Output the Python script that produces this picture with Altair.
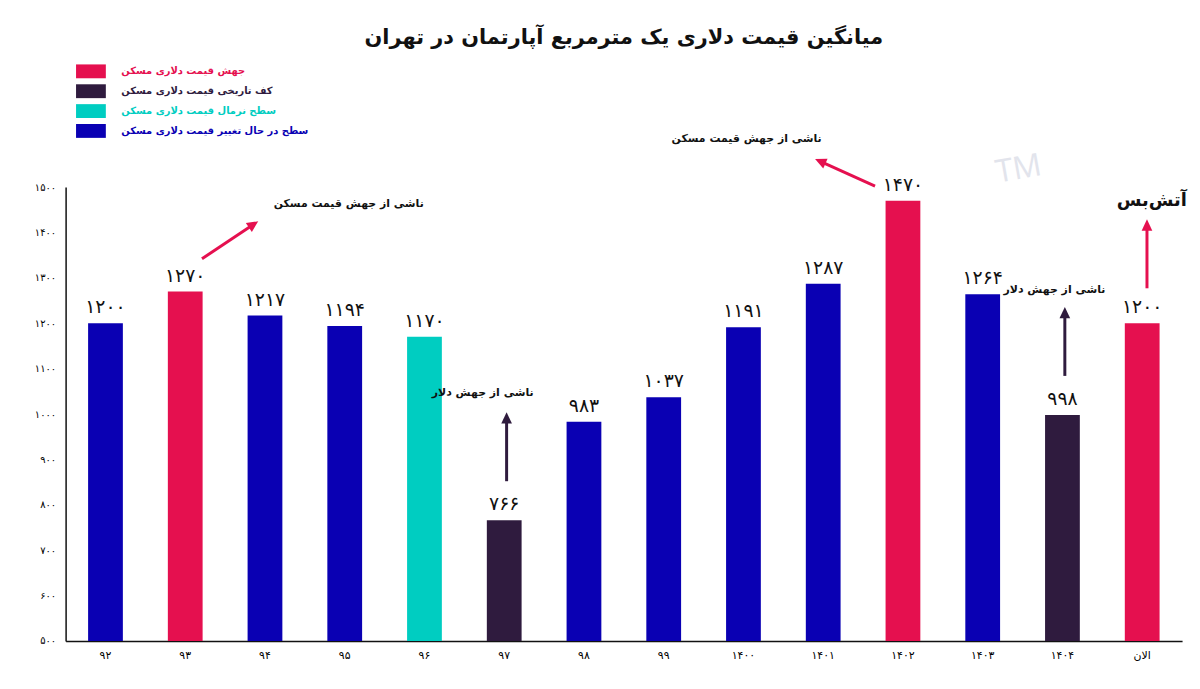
import altair as alt
import pandas as pd

FONT = "DejaVu Sans"

years = ["۹۲", "۹۳", "۹۴", "۹۵", "۹۶", "۹۷", "۹۸", "۹۹", "۱۴۰۰", "۱۴۰۱", "۱۴۰۲", "۱۴۰۳", "۱۴۰۴", "الان"]
prices = [1200, 1270, 1217, 1194, 1170, 766, 983, 1037, 1191, 1287, 1470, 1264, 998, 1200]

S_JUMP = "جهش قیمت دلاری مسکن"
S_FLOOR = "کف تاریخی قیمت دلاری مسکن"
S_NORMAL = "سطح نرمال قیمت دلاری مسکن"
S_CHANGE = "سطح در حال تغییر قیمت دلاری مسکن"
status = [S_CHANGE, S_JUMP, S_CHANGE, S_CHANGE, S_NORMAL, S_FLOOR, S_CHANGE,
          S_CHANGE, S_CHANGE, S_CHANGE, S_JUMP, S_CHANGE, S_FLOOR, S_JUMP]
status_order = [S_JUMP, S_FLOOR, S_NORMAL, S_CHANGE]
status_colors = ["#e5104f", "#2f1b3e", "#00cdc1", "#0a00b3"]

y_ticks = [500, 600, 700, 800, 900, 1000, 1100, 1200, 1300, 1400, 1500]
y_base = 500

# annotations (x in category units from left edge, y in price units)
note_text = ["ناشی از جهش قیمت مسکن", "ناشی از جهش دلار", "ناشی از جهش قیمت مسکن",
             "ناشی از جهش دلار", "آتش‌بس"]
note_x = [3.55, 5.23, 8.54, 12.40, 13.62]
note_y = [1462, 1047, 1605, 1274, 1469]
note_size = [11, 11, 11, 11, 18]

mark_text_list = ["TM"]
mark_x = [11.95]
mark_y = [1540]

arrow_x1 = [1.71, 10.15, 5.53, 12.53, 13.56]
arrow_y1 = [1342, 1502, 852, 1084, 1277]
arrow_x2 = [2.35, 9.47, 5.53, 12.53, 13.56]
arrow_y2 = [1417, 1556, 990, 1222, 1415]
arrow_angle = [56, 294, 0, 0, 0]
arrow_color = ["#e5104f", "#e5104f", "#2f1b3e", "#2f1b3e", "#e5104f"]

fa = str.maketrans("0123456789", "۰۱۲۳۴۵۶۷۸۹")

bars_df = pd.DataFrame({
    "year": years,
    "price": prices,
    "status": status,
    "label": [str(p).translate(fa) for p in prices],
})
notes_df = pd.DataFrame({"x": note_x, "y": note_y, "text": note_text, "size": note_size})
wm_df = pd.DataFrame({"x": mark_x, "y": mark_y, "text": mark_text_list})
arrows_df = pd.DataFrame({"x": arrow_x1, "y": arrow_y1, "x2": arrow_x2, "y2": arrow_y2,
                          "angle": arrow_angle, "c": arrow_color})

label_expr = " : ".join(f"datum.value == {t} ? '{str(t).translate(fa)}'" for t in y_ticks) + " : ''"

yscale = alt.Scale(domain=[500, 1500], nice=False, zero=False)
yenc = alt.Y("price:Q", scale=yscale, axis=alt.Axis(
    values=y_ticks, labelExpr=label_expr, title=None, grid=False, ticks=False,
    domainColor="#111", domainWidth=1.5, labelFont=FONT, labelFontSize=10,
    labelFontWeight="normal", labelColor="#000", labelPadding=10))

xenc = alt.X("year:N", sort=years,
             scale=alt.Scale(paddingInner=0.564, paddingOuter=0.282),
             axis=alt.Axis(title=None, orient="bottom", labelAngle=0, ticks=False,
                           domainColor="#111", domainWidth=1.5, labelFont=FONT,
                           labelFontSize=11, labelFontWeight="normal", labelColor="#000",
                           labelPadding=9))

bars = alt.Chart(bars_df).mark_bar().encode(
    x=xenc,
    y=yenc,
    y2=alt.datum(y_base),
    color=alt.Color("status:N", scale=alt.Scale(domain=status_order, range=status_colors),
                    legend=alt.Legend(
                        title=None, orient="none", legendX=18, legendY=-124,
                        symbolType="M-2,-0.93H2V0.93H-2Z", symbolSize=225,
                        symbolStrokeWidth=0, symbolOpacity=1,
                        labelFont=FONT, labelFontSize=10, labelFontWeight="bold",
                        labelOffset=23, rowPadding=5,
                        labelColor={"expr": "scale('color', datum.label)"},
                        labelLimit=400)),
)

values = alt.Chart(bars_df).mark_text(
    font=FONT, fontSize=19, baseline="alphabetic", dy=-10, color="#111"
).encode(x=alt.X("year:N", sort=years), y=alt.Y("price:Q"), text="label:N")

main = alt.layer(bars, values)

xq = alt.Scale(domain=[0, 14], nice=False, zero=False)

watermark = alt.Chart(wm_df).mark_text(
    font="Open Sans", fontSize=32, color="#e2e4ec", angle=350, clip=False
).encode(x=alt.X("x:Q", scale=xq, axis=None), y=alt.Y("y:Q"), text="text:N")

arrow_lines = alt.Chart(arrows_df).mark_rule(strokeWidth=3, clip=False).encode(
    x=alt.X("x:Q", scale=xq, axis=None), x2="x2:Q",
    y=alt.Y("y:Q"), y2="y2:Q",
    color=alt.Color("c:N", scale=None))

arrow_heads = alt.Chart(arrows_df).mark_point(
    shape="M0,-1L0.85,0.8L-0.85,0.8Z", filled=True, size=160, opacity=1, clip=False
).encode(x=alt.X("x2:Q", scale=xq, axis=None),
         y=alt.Y("y2:Q"),
         angle=alt.Angle("angle:Q", scale=None),
         color=alt.Color("c:N", scale=None))

notes = alt.Chart(notes_df).mark_text(
    font=FONT, fontWeight="bold", color="#111", clip=False
).encode(x=alt.X("x:Q", scale=xq, axis=None), y=alt.Y("y:Q"), text="text:N",
         size=alt.Size("size:Q", scale=None))

annot = alt.layer(watermark, arrow_lines, arrow_heads, notes)

chart = alt.layer(main, annot).resolve_scale(
    x="independent"
).properties(
    width=1124, height=457,
    autosize=alt.AutoSizeParams(type="none"),
    padding={"left": 58, "top": 178, "right": 10, "bottom": 38},
    title=alt.TitleParams("میانگین قیمت دلاری یک مترمربع آپارتمان در تهران",
                          font=FONT, fontSize=21, fontWeight="bold", color="#111",
                          anchor="middle", offset=16),
    background="white",
).configure_view(stroke=None)

chart.save("out.html", embed_options={"renderer": "svg", "actions": False})
